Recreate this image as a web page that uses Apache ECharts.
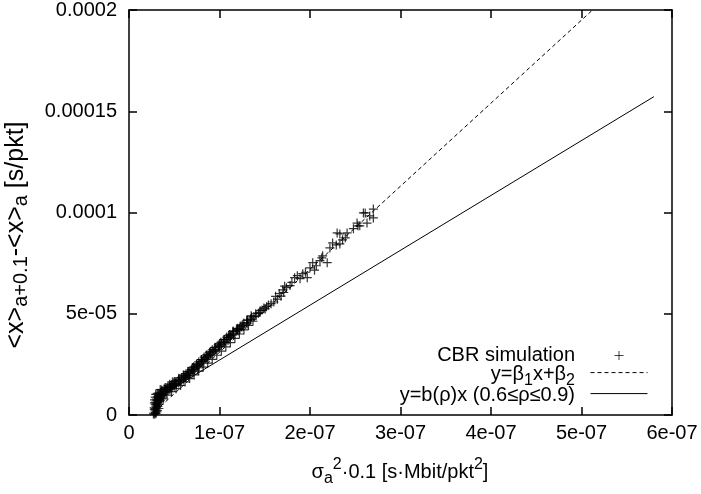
<!DOCTYPE html>
<html><head><meta charset="utf-8">
<script src="https://cdn.jsdelivr.net/npm/echarts@6/dist/echarts.min.js"></script>
<style>html,body{margin:0;padding:0;background:#fff}#c{width:701px;height:494px}</style>
</head><body><div id="c"></div>
<script>
// units used in the point list below
const X_UNIT = 1e-8;   // s·Mbit/pkt^2
const Y_UNIT = 1e-6;   // s/pkt

// CBR simulation points [x (1e-8), y (1e-6)]
const simPoints = [
 [2.85,0.4],[2.92,1.2],[2.98,0.7],[2.88,2.0],[3.0,2.6],[2.92,3.1],[3.05,3.8],[2.97,4.4],[3.1,4.9],[3.02,5.5],
 [3.15,6.0],[2.95,6.4],[3.22,6.8],[3.08,7.2],[3.3,7.6],[3.02,7.9],[3.42,8.3],[3.15,8.8],[3.56,9.0],[3.25,9.5],
 [3.7,9.8],[3.36,10.3],[3.9,10.5],[3.5,11.0],[4.1,11.2],[3.72,11.8],[4.3,12.0],[3.95,12.6],[4.52,12.6],[4.2,13.3],
 [4.75,13.4],[4.45,14.0],[5.0,14.2],[4.7,14.9],[5.25,15.0],[4.95,15.8],[5.5,15.8],[5.2,16.6],[5.75,16.7],[5.5,17.5],
 [6.02,17.6],[5.8,18.5],[6.3,18.5],[6.05,19.4],[6.55,19.5],[6.3,20.4],[6.82,20.5],[6.6,21.4],[7.05,21.7],[6.9,22.6],
 [7.3,22.9],[7.15,23.8],[7.6,24.0],[7.45,25.0],[7.85,25.2],[7.7,26.2],[8.1,26.4],[8.0,27.4],[8.4,27.6],[8.3,28.6],
 [8.7,28.7],[8.6,29.8],[9.0,30.0],[8.9,31.0],[9.3,31.1],[9.2,32.2],[9.6,32.4],[9.5,33.4],[9.9,33.6],[9.85,34.6],
 [10.2,34.8],[10.15,35.9],[10.5,36.0],[10.5,37.2],[10.85,37.3],[10.8,38.5],[11.2,38.7],[11.15,39.8],[11.5,40.0],[11.5,41.2],
 [11.85,41.4],[11.9,42.6],[12.2,42.7],[12.3,44.0],[12.6,44.0],[12.7,45.4],[13.0,45.6],[13.1,46.9],[13.4,47.1],[13.55,48.4],
 [13.8,48.6],[14.0,50.0],[14.3,50.2],[14.5,51.5],[14.7,51.8],[14.9,52.9],[15.2,53.5],[15.4,54.3],[15.7,55.0],[16.0,55.8],
 [16.4,57.2],[16.2,58.6],[16.8,58.7],[16.6,60.0],[17.1,60.5],[17.0,61.8],[17.4,62.9],[17.8,63.9],[17.2,63.6],
 [3.05,1.5],[2.9,5.2],[3.3,9.0],[3.6,10.2],[4.0,11.5],[4.6,13.6],[5.1,15.5],[5.6,16.9],[6.2,18.9],[6.7,20.9],
 [7.2,22.4],[7.75,24.6],[8.25,27.0],[8.8,29.3],[9.4,31.7],[10.0,34.1],[10.7,36.6],[11.3,39.3],[12.0,41.9],
 [3.2,10.8],[3.6,12.4],[4.0,13.6],[4.5,15.2],[5.0,16.6],[5.5,18.2],[6.0,19.8],[6.5,21.6],[7.0,23.4],[7.5,25.3],
 [8.0,27.3],[8.5,29.2],[9.0,31.2],[9.5,33.2],[10.0,35.2],[10.5,37.3],[11.0,39.3],[11.5,41.5],[12.0,42.8],[12.5,44.5],
 [13.0,46.8],[13.5,49.0],
 [3.4,6.5],[3.8,8.4],[4.2,9.8],[4.7,11.5],[5.2,13.0],[5.7,14.6],[6.2,16.3],[6.7,18.0],[7.2,19.8],[7.7,21.7],
 [8.2,23.6],[8.7,25.6],[9.2,27.5],[9.7,29.5],[10.2,31.5],[10.7,33.6],[11.2,35.7],[11.7,37.8],[12.2,40.0],[12.7,42.0],
 [13.2,44.2],[13.7,46.3],
 [3.5,10.5],[4.05,12.3],[4.55,13.9],[5.05,15.4],[5.45,17.0],[6.1,18.8],[6.45,20.5],[7.1,22.3],[7.55,24.3],[8.05,26.3],
 [8.55,28.2],[9.05,30.2],[9.55,32.2],[10.05,33.9],[10.55,36.0],[11.05,38.2],[11.55,40.4],[12.05,42.2],[12.45,43.4],[13.05,45.0],
 [13.45,47.5],[14.05,49.0],[14.45,50.6],[15.05,52.4],
 [2.75,1.0],[2.8,2.8],[3.15,2.2],[3.2,4.2],[2.8,6.0],[3.35,5.4],[2.9,8.8],[3.1,10.5],[3.45,12.6],
 [2.7,0.5],[2.78,3.5],[3.3,3.2],[3.45,7.2],[2.82,7.5],[3.6,8.0],[3.9,13.0],[4.3,14.5],[4.8,16.3],[2.95,10.2],
 [18.0,65.5],[18.3,67.8],[18.6,68.8],[18.9,67.3],[19.2,69.8],[19.5,70.5],[19.7,67.8],[20.0,72.7],[20.3,75.2],[20.5,71.5],
 [20.7,73.7],[21.1,76.2],[21.3,77.6],[21.4,78.6],[21.9,75.2],[22.2,82.5],[22.5,85.0],[22.9,84.0],[23.0,89.9],[23.3,89.4],
 [23.3,84.5],[23.6,86.5],[23.9,87.5],[24.1,89.9],[24.8,92.0],[25.2,94.8],[25.3,93.4],[25.5,93.4],[25.9,99.8],[26.1,99.8],
 [26.3,94.8],[26.6,98.3],[27.0,101.7],[27.0,97.3]
];

// fitted lines: endpoints
const fitX = [2.9e-8, 5.3e-7];          // y = beta1 x + beta2 (dashed)
const fitY = [1.9e-6, 2.073e-4];
const linX = [2.9e-8, 5.8e-7];          // y = b(rho) x (solid)
const linY = [7.9e-6, 1.572e-4];

const xTickLabels = ['0','1e-07','2e-07','3e-07','4e-07','5e-07','6e-07'];
const yTickLabels = ['0','5e-05','0.0001','0.00015','0.0002'];
const X_STEP = 1e-7, Y_STEP = 5e-5;

const names = ['CBR simulation', 'y=β1x+β2', 'y=b(ρ)x (0.6≤ρ≤0.9)'];
const legendRich = ['{m|CBR simulation}', '{m|y=β}{s|1}{m|x+β}{s|2}', '{m|y=b(ρ)x (0.6≤ρ≤0.9)}'];
const legendRowY = [355, 374, 395];

const FONT = '"Liberation Sans", Arial, Helvetica, sans-serif';
function richZ(main, sub) {
  return {
    m: {fontSize: main, lineHeight: 30, fontFamily: FONT, fill: '#000'},
    s: {fontSize: sub, lineHeight: sub, fontFamily: FONT, fill: '#000', verticalAlign: 'bottom'},
    p: {fontSize: sub, lineHeight: sub, fontFamily: FONT, fill: '#000', verticalAlign: 'top'}
  };
}

const chart = echarts.init(document.getElementById('c'), null, {renderer: 'canvas'});

const axisCommon = {
  type: 'value',
  axisLine: {show: true, onZero: false, lineStyle: {color: '#000', width: 1.5}},
  axisTick: {show: true, inside: true, length: 8, lineStyle: {color: '#000', width: 1.5}},
  splitLine: {show: false},
  minorTick: {show: false}
};

const crossPath = 'path://M5,0L5,10M0,5L10,5';

function legendIcon(i, left, w, h, extra) {
  return Object.assign({
    data: [names[i]],
    left: left, top: legendRowY[i] - h / 2, padding: 0,
    itemWidth: w, itemHeight: h, itemGap: 0,
    selectedMode: false,
    formatter: () => '',
    textStyle: {fontSize: 1, lineHeight: 1}
  }, extra);
}

chart.setOption({
  animation: false,
  backgroundColor: '#fff',
  grid: {left: 129, right: 29, top: 8, bottom: 79},
  xAxis: [
    Object.assign({}, axisCommon, {
      position: 'bottom', min: 0, max: 6e-7, interval: X_STEP,
      axisLabel: {margin: 8, fontSize: 20, fontFamily: FONT, color: '#000',
        formatter: v => xTickLabels[Math.round(v / X_STEP)]}
    }),
    Object.assign({}, axisCommon, {
      position: 'top', min: 0, max: 6e-7, interval: X_STEP, axisLabel: {show: false}
    })
  ],
  yAxis: [
    Object.assign({}, axisCommon, {
      position: 'left', min: 0, max: 2e-4, interval: Y_STEP,
      axisLabel: {margin: 12, fontSize: 20, fontFamily: FONT, color: '#000',
        formatter: v => yTickLabels[Math.round(v / Y_STEP)]}
    }),
    Object.assign({}, axisCommon, {
      position: 'right', min: 0, max: 2e-4, interval: Y_STEP, axisLabel: {show: false}
    })
  ],
  legend: [
    legendIcon(0, 614, 9, 9, {icon: crossPath,
      itemStyle: {color: 'transparent', borderColor: '#111', borderWidth: 1}}),
    legendIcon(1, 590, 57, 14, {
      itemStyle: {color: 'transparent', borderColor: 'transparent', borderWidth: 0, opacity: 0},
      lineStyle: {color: '#000', width: 1, type: [4, 3]}}),
    legendIcon(2, 590, 57, 14, {
      itemStyle: {color: 'transparent', borderColor: 'transparent', borderWidth: 0, opacity: 0},
      lineStyle: {color: '#000', width: 1, type: 'solid'}})
  ],
  graphic: [
    {type: 'text', x: 400, y: 472,
      style: {text: '{m|σ}{s|a}{p|2}{m|·0.1 [s·Mbit/pkt}{p|2}{m|]}', rich: richZ(20, 16), align: 'center', verticalAlign: 'middle'}},
    {type: 'text', x: 16, y: 235, rotation: Math.PI / 2,
      style: {text: '{m|<x>}{s|a+0.1}{m|-<x>}{s|a}{m| [s/pkt]}', rich: richZ(25, 20), align: 'center', verticalAlign: 'middle'}}
  ].concat(legendRich.map((t, i) => ({
      type: 'text', x: 575, y: legendRowY[i],
      style: {text: t, rich: richZ(20, 16), align: 'right', verticalAlign: 'middle'}
  }))),
  series: [
    {
      name: names[0], type: 'scatter', xAxisIndex: 0, yAxisIndex: 0,
      symbol: crossPath, symbolSize: 9,
      itemStyle: {color: 'transparent', borderColor: '#000', borderWidth: 1.2},
      data: simPoints.map(p => [p[0] * X_UNIT, p[1] * Y_UNIT]),
      z: 3
    },
    {
      name: names[1], type: 'line', xAxisIndex: 0, yAxisIndex: 0,
      symbol: 'none', clip: true,
      lineStyle: {color: '#000', width: 1, type: [4, 3]},
      data: fitX.map((x, i) => [x, fitY[i]]), z: 2
    },
    {
      name: names[2], type: 'line', xAxisIndex: 0, yAxisIndex: 0,
      symbol: 'none', clip: true,
      lineStyle: {color: '#000', width: 1},
      data: linX.map((x, i) => [x, linY[i]]), z: 2
    }
  ]
});
</script></body></html>
